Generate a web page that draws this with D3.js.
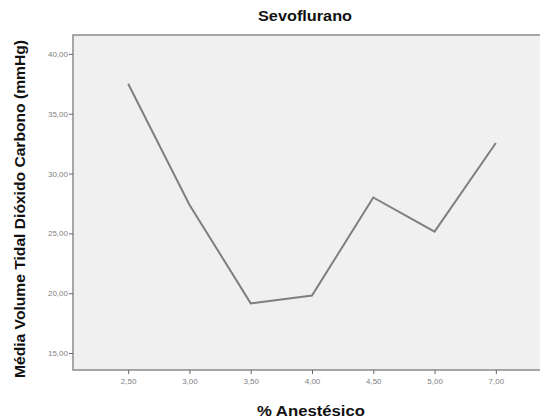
<!DOCTYPE html>
<html>
<head>
<meta charset="utf-8">
<script src="https://cdn.jsdelivr.net/npm/d3@7"></script>
<style>
  body { margin: 0; background: #fff; }
  svg { display: block; }
</style>
</head>
<body>
<div class="chart"></div>
<script>
const categories = ["2,50", "3,00", "3,50", "4,00", "4,50", "5,00", "7,00"];
const values = [37.5, 27.4, 19.15, 19.8, 28.0, 25.15, 32.55];
const yTicks = [15, 20, 25, 30, 35, 40];

const width = 540,
  height = 419;
const plot = { left: 73, top: 35, right: 551, bottom: 370 };
const font = "Arial, 'Liberation Sans', sans-serif";

const svg = d3
  .select(".chart")
  .append("svg")
  .attr("width", width)
  .attr("height", height);

// plot background + frame
svg
  .append("rect")
  .attr("x", plot.left)
  .attr("y", plot.top)
  .attr("width", plot.right - plot.left)
  .attr("height", plot.bottom - plot.top)
  .attr("fill", "#f0f0f0")
  .attr("stroke", "#8c8c8c")
  .attr("stroke-width", 1.5);

const xScale = d3
  .scalePoint()
  .domain(categories)
  .range([plot.left, plot.right])
  .padding(0.9);

const yScale = d3
  .scaleLinear()
  .domain([13.58, 41.58])
  .range([plot.bottom, plot.top]);

const fmt = (d) => d.toFixed(2).replace(".", ",");

// y axis
const yAxis = svg
  .append("g")
  .attr("transform", `translate(${plot.left},0)`)
  .call(d3.axisLeft(yScale).tickValues(yTicks).tickFormat(fmt).tickSize(4).tickPadding(1));
yAxis.select(".domain").remove();
yAxis.selectAll("line").attr("stroke", "#666");
yAxis
  .selectAll("text")
  .attr("fill", "#808080")
  .style("font-family", font)
  .style("font-size", "8px");

// x axis
const xAxis = svg
  .append("g")
  .attr("transform", `translate(0,${plot.bottom})`)
  .call(d3.axisBottom(xScale).tickSize(4).tickPadding(4));
xAxis.select(".domain").remove();
xAxis.selectAll("line").attr("stroke", "#666");
xAxis
  .selectAll("text")
  .attr("fill", "#808080")
  .style("font-family", font)
  .style("font-size", "8px");

// line
const line = d3
  .line()
  .x((d, i) => xScale(categories[i]))
  .y((d) => yScale(d));

svg
  .append("path")
  .datum(values)
  .attr("d", line)
  .attr("fill", "none")
  .attr("stroke", "#7f7f7f")
  .attr("stroke-width", 2)
  .attr("stroke-linejoin", "miter");

// titles
svg
  .append("text")
  .attr("x", 305)
  .attr("y", 21)
  .attr("text-anchor", "middle")
  .attr("textLength", 94)
  .attr("lengthAdjust", "spacingAndGlyphs")
  .style("font-family", font)
  .style("font-weight", "bold")
  .style("font-size", "14px")
  .attr("fill", "#111")
  .text("Sevoflurano");

svg
  .append("text")
  .attr("transform", "rotate(-90)")
  .attr("x", -209)
  .attr("y", 25)
  .attr("text-anchor", "middle")
  .attr("textLength", 338)
  .attr("lengthAdjust", "spacingAndGlyphs")
  .style("font-family", font)
  .style("font-weight", "bold")
  .style("font-size", "14px")
  .attr("fill", "#111")
  .text("Média Volume Tidal Dióxido Carbono (mmHg)");

svg
  .append("text")
  .attr("x", 311)
  .attr("y", 416)
  .attr("text-anchor", "middle")
  .attr("textLength", 108)
  .attr("lengthAdjust", "spacingAndGlyphs")
  .style("font-family", font)
  .style("font-weight", "bold")
  .style("font-size", "14.5px")
  .attr("fill", "#111")
  .text("% Anestésico");
</script>
</body>
</html>
